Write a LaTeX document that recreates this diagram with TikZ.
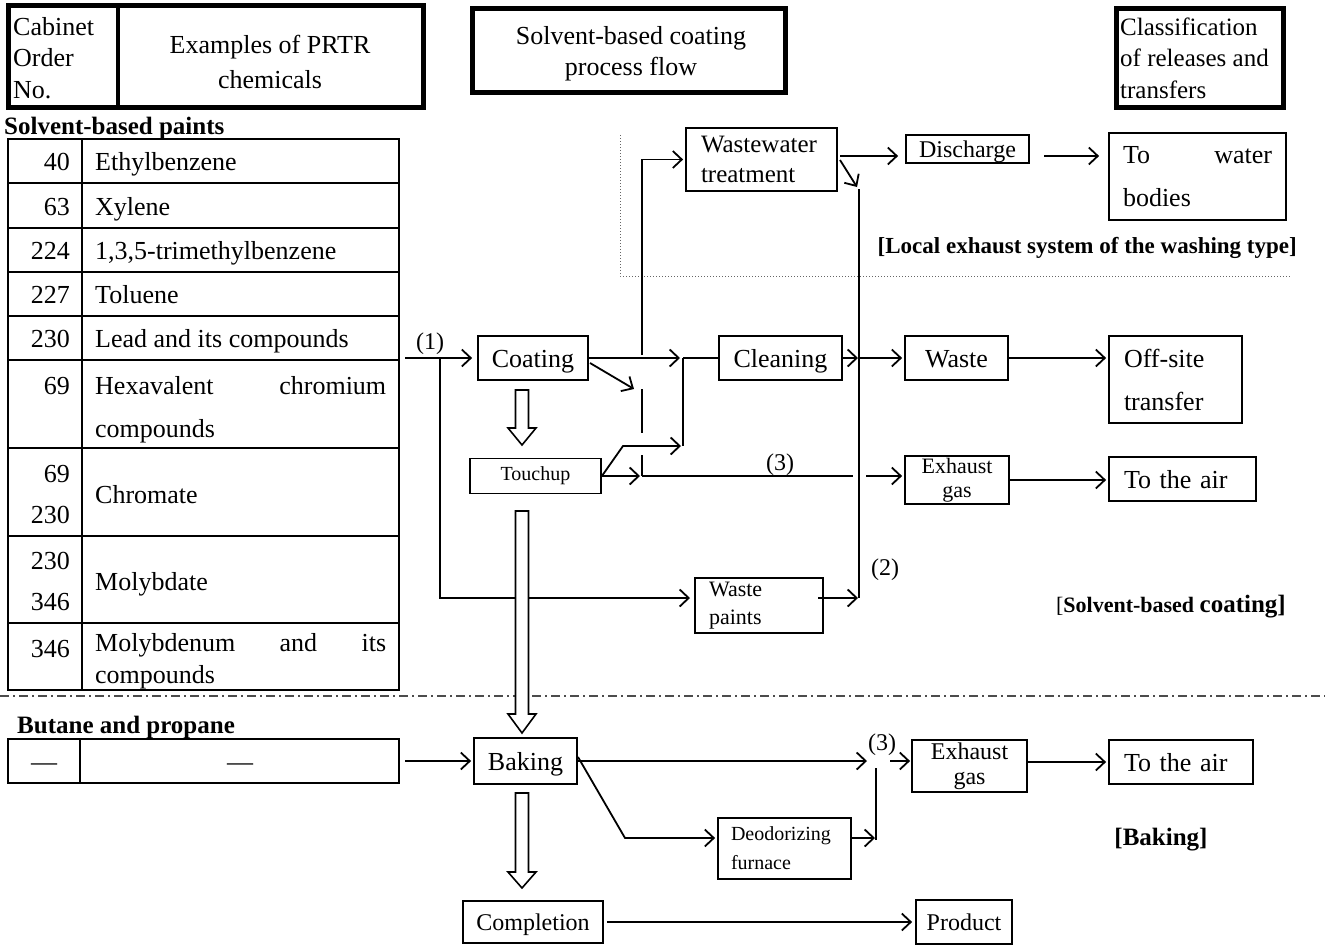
\documentclass[tikz,border=0pt]{standalone}
\usepackage{fontspec}
\setmainfont{Liberation Serif}
\usetikzlibrary{arrows.meta,calc}
\newcommand\myfs[2]{\fontsize{#1}{#2}\selectfont}
\newcommand\harrow[4]{\draw[hollow] ({#1-6.5},{#2}) -- ({#1+6.5},{#2}) -- ({#1+6.5},{#3}) -- ({#1+14},{#3}) -- ({#1},{#4}) -- ({#1-14},{#3}) -- ({#1-6.5},{#3}) -- cycle;}
\tikzset{
 box/.style={draw, line width=1.8pt, inner sep=0pt, align=center},
 hbox/.style={draw, line width=5pt, inner sep=0pt},
 arr/.style={line width=1.8pt, -{Straight Barb[length=9pt,width=17pt]}},
 ln/.style={line width=1.8pt},
 hollow/.style={draw, fill=white, line width=1.6pt, line join=miter},
 num/.style={anchor=base east, inner sep=0pt, font=\myfs{26}{26}},
 nm/.style={anchor=base west, inner sep=0pt, font=\myfs{26}{26}},
 lbl/.style={inner sep=0pt, font=\myfs{24}{24}},
 onebig/.style={text height=19pt, text depth=1pt},
 onemid/.style={text height=17pt, text depth=1pt},
}
\begin{document}
\begin{tikzpicture}[x=1pt,y=-1pt]
\useasboundingbox (0,0) rectangle (1325,945);

% region separators
\draw[dotted, line width=1pt, gray!80!black] (620,135) -- (620,276) -- (1290,276);
\draw[line width=1.2pt, gray!60!black, dash pattern=on 9pt off 4pt on 2pt off 4pt] (0,696) -- (1325,696);

% header
\node[hbox, minimum width=415pt, minimum height=102pt] (h1) at (215.5,56) {};
\draw[line width=4pt] (118,5) -- (118,107);
\node[anchor=west, align=left, inner sep=0pt, font=\myfs{26}{31.5}] (h1a) at (13,58) {Cabinet\\Order\\No.};
\node[align=center, inner sep=0pt, font=\myfs{26}{35}] (h1b) at (270,62) {Examples of PRTR\\chemicals};
\node[hbox, minimum width=313pt, minimum height=84pt] (h2) at (628.5,50) {};
\node[align=center, inner sep=0pt, font=\myfs{26}{31}] (h2t) at (631,54) {Solvent-based coating\\process flow};
\node[hbox, minimum width=167pt, minimum height=99pt] (h3) at (1199.5,57.5) {};
\node[anchor=west, align=left, inner sep=0pt, font=\myfs{25}{31.5}] (h3t) at (1120,58) {Classification\\of releases and\\transfers};

% PRTR table
\node[anchor=west, inner sep=0pt, font=\bfseries\myfs{25}{25}] (sbp) at (4,128) {Solvent-based paints};
\draw[ln] (8,139) rectangle (399,690);
\draw[ln] (82,139) -- (82,690);
\foreach \y in {183,228,272,316,360,448,536,623} \draw[ln] (8,\y) -- (399,\y);
\node[num] (n1) at (70,170) {40};   \node[nm] (c1) at (95,170) {Ethylbenzene};
\node[num] (n2) at (70,215) {63};   \node[nm] (c2) at (95,215) {Xylene};
\node[num] (n3) at (70,259) {224};  \node[nm] (c3) at (95,259) {1,3,5-trimethylbenzene};
\node[num] (n4) at (70,303) {227};  \node[nm] (c4) at (95,303) {Toluene};
\node[num] (n5) at (70,347) {230};  \node[nm] (c5) at (95,347) {Lead and its compounds};
\node[num] (n6) at (70,394) {69};
\node[nm] (c6a) at (95,394) {\makebox[291pt]{Hexavalent\hfill chromium}};
\node[nm] (c6b) at (95,437) {compounds};
\node[num] (n7a) at (70,482) {69};  \node[num] (n7b) at (70,523) {230};
\node[nm] (c7) at (95,503) {Chromate};
\node[num] (n8a) at (70,569) {230}; \node[num] (n8b) at (70,610) {346};
\node[nm] (c8) at (95,590) {Molybdate};
\node[num] (n9) at (70,657) {346};
\node[nm] (c9a) at (95,651) {\makebox[291pt]{Molybdenum\hfill and\hfill its}};
\node[nm] (c9b) at (95,683) {compounds};

% butane table
\node[anchor=west, inner sep=0pt, font=\bfseries\myfs{25}{25}] (bap) at (17,727) {Butane and propane};
\draw[ln] (8,739) rectangle (399,783);
\draw[ln] (80,739) -- (80,783);
\node[inner sep=0pt, font=\myfs{26}{26}] (d1) at (44,767) {—};
\node[inner sep=0pt, font=\myfs{26}{26}] (d2) at (240,767) {—};

% process boxes
\node[box, onebig, minimum width=110pt, minimum height=44pt, font=\myfs{26}{30}] (coat) at (533,358) {Coating};
\node[box, minimum width=131pt, minimum height=35pt, font=\myfs{20}{22}] (touch) at (535.5,476) {Touchup};
\node[box, onebig, minimum width=123pt, minimum height=44pt, font=\myfs{26}{30}] (clean) at (780.5,358) {Cleaning};
\node[box, onebig, minimum width=103pt, minimum height=44pt, font=\myfs{26}{30}] (waste) at (956.5,358) {Waste};
\node[box, minimum width=133pt, minimum height=87pt, text width=103pt, align=left, font=\myfs{26}{43}] (offsite) at (1175.5,379.5) {Off-site\\transfer};
\node[box, minimum width=104pt, minimum height=48pt, font=\myfs{22}{24}] (exh1) at (957,480) {Exhaust\\gas};
\node[box, onebig, minimum width=147pt, minimum height=44pt, text width=117pt, align=left, font=\myfs{26}{30}] (air1) at (1182.5,479) {To the air};
\node[box, minimum width=151pt, minimum height=63pt, text width=121pt, align=left, font=\myfs{25}{30}] (ww) at (761.5,159.5) {Wastewater\\treatment};
\node[box, onemid, minimum width=123pt, minimum height=28pt, font=\myfs{24}{26}] (disch) at (967.5,149) {Discharge};
\node[box, minimum width=177pt, minimum height=87pt, text width=149pt, align=left, font=\myfs{26}{43}] (water) at (1197.5,176.5) {\makebox[149pt]{To\hfill water}\\bodies};
\node[box, minimum width=128pt, minimum height=55pt, text width=100pt, align=left, font=\myfs{22}{28}] (wp) at (759,605.5) {Waste\\paints};
\node[box, onebig, minimum width=103pt, minimum height=46pt, font=\myfs{26}{30}] (bake) at (525.5,761) {Baking};
\node[box, minimum width=115pt, minimum height=52pt, font=\myfs{24}{25}] (exh2) at (969.5,766) {Exhaust\\gas};
\node[box, onebig, minimum width=144pt, minimum height=44pt, text width=114pt, align=left, font=\myfs{26}{30}] (air2) at (1181,762) {To the air};
\node[box, minimum width=133pt, minimum height=61pt, text width=107pt, align=left, font=\myfs{20}{29}] (deo) at (784.5,848.5) {Deodorizing\\furnace};
\node[box, onemid, minimum width=140pt, minimum height=42pt, font=\myfs{24}{28}] (comp) at (533,922) {Completion};
\node[box, onemid, minimum width=96pt, minimum height=44pt, font=\myfs{24}{28}] (prod) at (964,922) {Product};

% labels
\node[lbl] (l1) at (430,344) {(1)};
\node[lbl] (l2) at (885,570) {(2)};
\node[lbl] (l3a) at (780,465) {(3)};
\node[lbl] (l3b) at (882,745) {(3)};
\node[anchor=east, inner sep=0pt, font=\bfseries\myfs{23}{23}] (lex) at (1297,248) {[Local exhaust system of the washing type]};
\node[anchor=east, inner sep=0pt] (lsc) at (1286,607) {\myfs{22}{22}[\textbf{Solvent-based \myfs{25}{25}coating]}};
\node[inner sep=0pt, font=\bfseries\myfs{25}{25}] (lbk) at (1161,840) {[Baking]};

% junction coordinates
\coordinate (t1) at (405,358);
\coordinate (j1) at (440,358);
\coordinate (wpin) at (690,598);
\coordinate (jA) at (642,355);
\coordinate (jB) at (683,358);
\coordinate (jD) at (683,446);
\coordinate (tdiag) at (623,446);
\coordinate (cd1) at (590,363);
\coordinate (cd2) at (634,389);
\coordinate (vA1) at (642,389);
\coordinate (vA2) at (642,433);
\coordinate (vA3) at (642,455);
\coordinate (jE) at (642,476);
\coordinate (gap1) at (853,476);
\coordinate (L3) at (866,476);
\coordinate (jC) at (859,358);
\coordinate (v2top) at (859,189);
\coordinate (v2bot) at (859,598);
\coordinate (wpout) at (818,598);
\coordinate (wwd1) at (840,160);
\coordinate (wwd2) at (857,187);
\coordinate (wwo) at (840,156);
\coordinate (dso) at (1044,156);
\coordinate (bt) at (405,761);
\coordinate (b3) at (867,761);
\coordinate (bd1) at (578,757);
\coordinate (bd2) at (625,838);
\coordinate (vt) at (876,768);
\coordinate (vb) at (876,840);
\coordinate (deoo) at (851,838);
\coordinate (vm) at (876,838);
\coordinate (e3) at (890,761);

% connectors upper part
\draw[arr, shorten >=5pt] (t1) -- (coat.west);
\draw[arr] (j1) |- (wpin);
\draw[arr, shorten >=3pt] (coat.east) -- (jB);
\draw[arr, shorten >=2pt] (jA) |- (ww.west);
\draw[ln] (jB) -- (clean.west);
\draw[ln] (jB) -- (jD);
\draw[arr] (cd1) -- (cd2);
\draw[ln] (vA1) -- (vA2);
\draw[ln] (vA3) -- (jE);
\draw[arr, shorten >=2pt] (touch.east) -- (tdiag) -- (jD);
\draw[arr, shorten >=2pt] (touch.east) -- (jE);
\draw[ln] (jE) -- (gap1);
\draw[arr, shorten >=2pt] (L3) -- (L3 -| exh1.west);
\draw[arr, shorten >=1pt] (clean.east) -- (jC);
\draw[arr, shorten >=2pt] (jC) -- (waste.west);
\draw[ln] (v2top) -- (v2bot);
\draw[arr, shorten >=1pt] (wpout) -- (v2bot);
\draw[arr] (wwd1) -- (wwd2);
\draw[arr, shorten >=7pt] (wwo) -- (wwo -| disch.west);
\draw[arr, shorten >=9pt] (dso) -- (dso -| water.west);
\draw[arr, shorten >=2pt] (waste.east) -- (waste.east -| offsite.west);
\draw[arr, shorten >=2pt] (exh1.east) -- (exh1.east -| air1.west);

% connectors lower part
\draw[arr, shorten >=2pt] (bt) -- (bake.west);
\draw[arr] (bake.east) -- (b3);
\draw[arr, shorten >=2pt] (bd1) -- (bd2) -- (bd2 -| deo.west);
\draw[ln] (vt) -- (vb);
\draw[arr, shorten >=1pt] (deoo) -- (vm);
\draw[arr, shorten >=1pt] (e3) -- (e3 -| exh2.west);
\draw[arr, shorten >=2pt] (air2.west -| exh2.east) -- (air2.west);
\draw[arr, shorten <=3pt, shorten >=3pt] (comp.east) -- (comp.east -| prod.west);

% hollow process arrows
\harrow{522}{390}{428}{445}
\harrow{522}{511}{714}{733}
\harrow{522}{793}{872}{888}
\end{tikzpicture}
\end{document}
